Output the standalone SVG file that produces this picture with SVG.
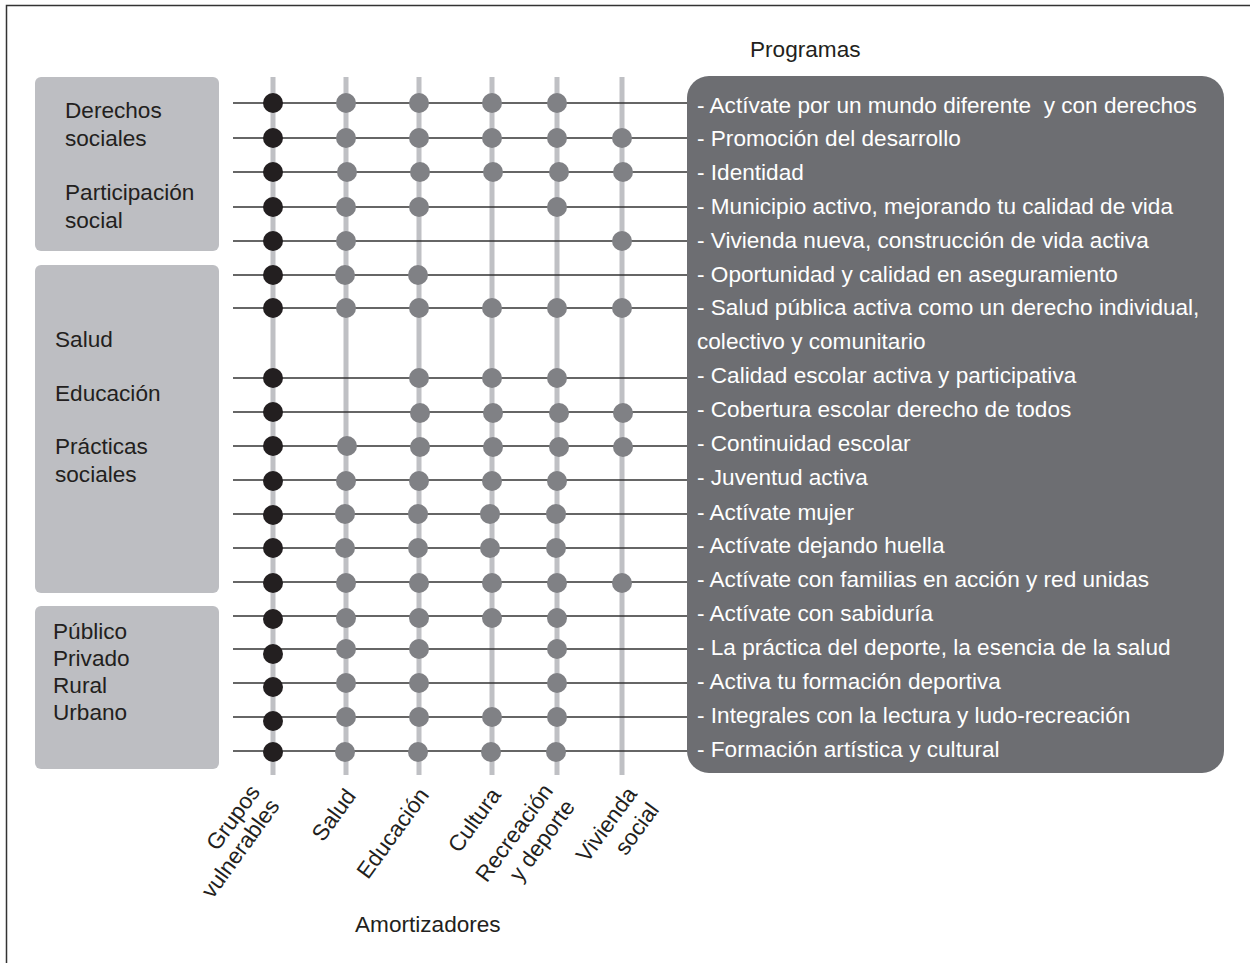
<svg xmlns="http://www.w3.org/2000/svg" width="1250" height="963" viewBox="0 0 1250 963">
<style>
text{font-family:"Liberation Sans",Arial,sans-serif;font-size:22.6px}
.lt{fill:#231f20}
.wt{fill:#ffffff}
.box{fill:#bdbec2}
.bar{stroke:#bfc0c4;stroke-width:5}
.hl{stroke:#333333;stroke-width:1.6}
.bd{fill:#231f20}
.gd{fill:#808185}
</style>
<rect x="0" y="0" width="1250" height="963" fill="#ffffff"/>
<path d="M6.5,963 V5.5 H1250" fill="none" stroke="#333333" stroke-width="1.5"/>

<text id="title-programas" class="lt" x="750" y="57">Programas</text>
<text id="title-amortizadores" class="lt" x="355" y="932">Amortizadores</text>

<g id="group-derechos">
<rect class="box" x="35" y="77" width="184" height="174" rx="6"/>
<text class="lt" x="65" y="118">Derechos</text>
<text class="lt" x="65" y="146">sociales</text>
<text class="lt" x="65" y="200">Participación</text>
<text class="lt" x="65" y="228">social</text>
</g>
<g id="group-salud">
<rect class="box" x="35" y="265" width="184" height="328" rx="6"/>
<text class="lt" x="55" y="347">Salud</text>
<text class="lt" x="55" y="401">Educación</text>
<text class="lt" x="55" y="454">Prácticas</text>
<text class="lt" x="55" y="482">sociales</text>
</g>
<g id="group-publico">
<rect class="box" x="35" y="606" width="184" height="163" rx="6"/>
<text class="lt" x="53" y="639">Público</text>
<text class="lt" x="53" y="666">Privado</text>
<text class="lt" x="53" y="693">Rural</text>
<text class="lt" x="53" y="720">Urbano</text>
</g>

<g id="connectors">
<g id="bars">
<line class="bar" x1="273" y1="77" x2="273" y2="775"/>
<line class="bar" x1="346" y1="77" x2="346" y2="775"/>
<line class="bar" x1="419" y1="77" x2="419" y2="775"/>
<line class="bar" x1="492" y1="77" x2="492" y2="775"/>
<line class="bar" x1="557" y1="77" x2="557" y2="775"/>
<line class="bar" x1="622" y1="77" x2="622" y2="775"/>
</g>
<g id="rows">
<line class="hl" x1="233" y1="103" x2="690" y2="103"/>
<line class="hl" x1="233" y1="138" x2="690" y2="138"/>
<line class="hl" x1="233" y1="172" x2="690" y2="172"/>
<line class="hl" x1="233" y1="207" x2="690" y2="207"/>
<line class="hl" x1="233" y1="241" x2="690" y2="241"/>
<line class="hl" x1="233" y1="275" x2="690" y2="275"/>
<line class="hl" x1="233" y1="308" x2="690" y2="308"/>
<line class="hl" x1="233" y1="378" x2="690" y2="378"/>
<line class="hl" x1="233" y1="412" x2="690" y2="412"/>
<line class="hl" x1="233" y1="446" x2="690" y2="446"/>
<line class="hl" x1="233" y1="480" x2="690" y2="480"/>
<line class="hl" x1="233" y1="514" x2="690" y2="514"/>
<line class="hl" x1="233" y1="548" x2="690" y2="548"/>
<line class="hl" x1="233" y1="582" x2="690" y2="582"/>
<line class="hl" x1="233" y1="616" x2="690" y2="616"/>
<line class="hl" x1="233" y1="649" x2="690" y2="649"/>
<line class="hl" x1="233" y1="683" x2="690" y2="683"/>
<line class="hl" x1="233" y1="717" x2="690" y2="717"/>
<line class="hl" x1="233" y1="751" x2="690" y2="751"/>
</g>
</g>

<g id="dots">
<g id="dots-grupos">
<circle class="bd" cx="273" cy="103" r="10"/>
<circle class="bd" cx="273" cy="138" r="10"/>
<circle class="bd" cx="273" cy="172" r="10"/>
<circle class="bd" cx="273" cy="207" r="10"/>
<circle class="bd" cx="273" cy="241" r="10"/>
<circle class="bd" cx="273" cy="275" r="10"/>
<circle class="bd" cx="273" cy="308" r="10"/>
<circle class="bd" cx="273" cy="378" r="10"/>
<circle class="bd" cx="273" cy="412" r="10"/>
<circle class="bd" cx="273" cy="446" r="10"/>
<circle class="bd" cx="273" cy="481" r="10"/>
<circle class="bd" cx="273" cy="515" r="10"/>
<circle class="bd" cx="273" cy="548" r="10"/>
<circle class="bd" cx="273" cy="583" r="10"/>
<circle class="bd" cx="273" cy="619" r="10"/>
<circle class="bd" cx="273" cy="654" r="10"/>
<circle class="bd" cx="273" cy="687" r="10"/>
<circle class="bd" cx="273" cy="721" r="10"/>
<circle class="bd" cx="273" cy="752" r="10"/>
</g>
<g id="dots-salud">
<circle class="gd" cx="346" cy="103" r="10"/>
<circle class="gd" cx="346" cy="138" r="10"/>
<circle class="gd" cx="347" cy="172" r="10"/>
<circle class="gd" cx="346" cy="207" r="10"/>
<circle class="gd" cx="346" cy="241" r="10"/>
<circle class="gd" cx="345" cy="275" r="10"/>
<circle class="gd" cx="346" cy="308" r="10"/>
<circle class="gd" cx="347" cy="446" r="10"/>
<circle class="gd" cx="346" cy="481" r="10"/>
<circle class="gd" cx="345" cy="514" r="10"/>
<circle class="gd" cx="345" cy="548" r="10"/>
<circle class="gd" cx="346" cy="583" r="10"/>
<circle class="gd" cx="346" cy="618" r="10"/>
<circle class="gd" cx="346" cy="649" r="10"/>
<circle class="gd" cx="346" cy="683" r="10"/>
<circle class="gd" cx="346" cy="717" r="10"/>
<circle class="gd" cx="345" cy="752" r="10"/>
</g>
<g id="dots-educacion">
<circle class="gd" cx="419" cy="103" r="10"/>
<circle class="gd" cx="419" cy="138" r="10"/>
<circle class="gd" cx="420" cy="172" r="10"/>
<circle class="gd" cx="419" cy="207" r="10"/>
<circle class="gd" cx="418" cy="275" r="10"/>
<circle class="gd" cx="419" cy="308" r="10"/>
<circle class="gd" cx="419" cy="378" r="10"/>
<circle class="gd" cx="420" cy="413" r="10"/>
<circle class="gd" cx="420" cy="447" r="10"/>
<circle class="gd" cx="419" cy="481" r="10"/>
<circle class="gd" cx="418" cy="514" r="10"/>
<circle class="gd" cx="418" cy="548" r="10"/>
<circle class="gd" cx="419" cy="583" r="10"/>
<circle class="gd" cx="419" cy="618" r="10"/>
<circle class="gd" cx="419" cy="649" r="10"/>
<circle class="gd" cx="419" cy="683" r="10"/>
<circle class="gd" cx="419" cy="717" r="10"/>
<circle class="gd" cx="418" cy="752" r="10"/>
</g>
<g id="dots-cultura">
<circle class="gd" cx="492" cy="103" r="10"/>
<circle class="gd" cx="492" cy="138" r="10"/>
<circle class="gd" cx="493" cy="172" r="10"/>
<circle class="gd" cx="492" cy="308" r="10"/>
<circle class="gd" cx="492" cy="378" r="10"/>
<circle class="gd" cx="493" cy="413" r="10"/>
<circle class="gd" cx="493" cy="447" r="10"/>
<circle class="gd" cx="492" cy="481" r="10"/>
<circle class="gd" cx="490" cy="514" r="10"/>
<circle class="gd" cx="490" cy="548" r="10"/>
<circle class="gd" cx="492" cy="583" r="10"/>
<circle class="gd" cx="492" cy="618" r="10"/>
<circle class="gd" cx="492" cy="717" r="10"/>
<circle class="gd" cx="491" cy="752" r="10"/>
</g>
<g id="dots-recreacion">
<circle class="gd" cx="557" cy="103" r="10"/>
<circle class="gd" cx="557" cy="138" r="10"/>
<circle class="gd" cx="559" cy="172" r="10"/>
<circle class="gd" cx="557" cy="207" r="10"/>
<circle class="gd" cx="557" cy="308" r="10"/>
<circle class="gd" cx="557" cy="378" r="10"/>
<circle class="gd" cx="559" cy="413" r="10"/>
<circle class="gd" cx="559" cy="447" r="10"/>
<circle class="gd" cx="557" cy="481" r="10"/>
<circle class="gd" cx="556" cy="514" r="10"/>
<circle class="gd" cx="556" cy="548" r="10"/>
<circle class="gd" cx="557" cy="583" r="10"/>
<circle class="gd" cx="557" cy="618" r="10"/>
<circle class="gd" cx="557" cy="649" r="10"/>
<circle class="gd" cx="557" cy="683" r="10"/>
<circle class="gd" cx="557" cy="717" r="10"/>
<circle class="gd" cx="556" cy="752" r="10"/>
</g>
<g id="dots-vivienda">
<circle class="gd" cx="622" cy="138" r="10"/>
<circle class="gd" cx="623" cy="172" r="10"/>
<circle class="gd" cx="622" cy="241" r="10"/>
<circle class="gd" cx="622" cy="308" r="10"/>
<circle class="gd" cx="623" cy="413" r="10"/>
<circle class="gd" cx="623" cy="447" r="10"/>
<circle class="gd" cx="622" cy="583" r="10"/>
</g>
</g>

<g id="programas">
<rect x="687" y="76" width="537" height="697" rx="22" fill="#6d6e72"/>
<text class="wt" x="697" y="113" xml:space="preserve">- Actívate por un mundo diferente  y con derechos</text>
<text class="wt" x="697" y="146">- Promoción del desarrollo</text>
<text class="wt" x="697" y="180">- Identidad</text>
<text class="wt" x="697" y="214">- Municipio activo, mejorando tu calidad de vida</text>
<text class="wt" x="697" y="248">- Vivienda nueva, construcción de vida activa</text>
<text class="wt" x="697" y="282">- Oportunidad y calidad en aseguramiento</text>
<text class="wt" x="697" y="315">- Salud pública activa como un derecho individual,</text>
<text class="wt" x="697" y="349">colectivo y comunitario</text>
<text class="wt" x="697" y="383">- Calidad escolar activa y participativa</text>
<text class="wt" x="697" y="417">- Cobertura escolar derecho de todos</text>
<text class="wt" x="697" y="451">- Continuidad escolar</text>
<text class="wt" x="697" y="485">- Juventud activa</text>
<text class="wt" x="697" y="520">- Actívate mujer</text>
<text class="wt" x="697" y="553">- Actívate dejando huella</text>
<text class="wt" x="697" y="587">- Actívate con familias en acción y red unidas</text>
<text class="wt" x="697" y="621">- Actívate con sabiduría</text>
<text class="wt" x="697" y="655">- La práctica del deporte, la esencia de la salud</text>
<text class="wt" x="697" y="689">- Activa tu formación deportiva</text>
<text class="wt" x="697" y="723">- Integrales con la lectura y ludo-recreación</text>
<text class="wt" x="697" y="757">- Formación artística y cultural</text>
</g>

<g id="amortizadores" text-anchor="end">
<text class="lt" transform="translate(261,792) rotate(-54)"><tspan x="0" y="0">Grupos</tspan><tspan x="0" y="24">vulnerables</tspan></text>
<text class="lt" transform="translate(357,796) rotate(-54)">Salud</text>
<text class="lt" transform="translate(430,795) rotate(-54)">Educación</text>
<text class="lt" transform="translate(502,795) rotate(-54)">Cultura</text>
<text class="lt" transform="translate(554,791) rotate(-54)"><tspan x="0" y="0">Recreación</tspan><tspan x="0" y="27">y deporte</tspan></text>
<text class="lt" transform="translate(638,794) rotate(-54)"><tspan x="0" y="0">Vivienda</tspan><tspan x="0" y="27">social</tspan></text>
</g>
</svg>
